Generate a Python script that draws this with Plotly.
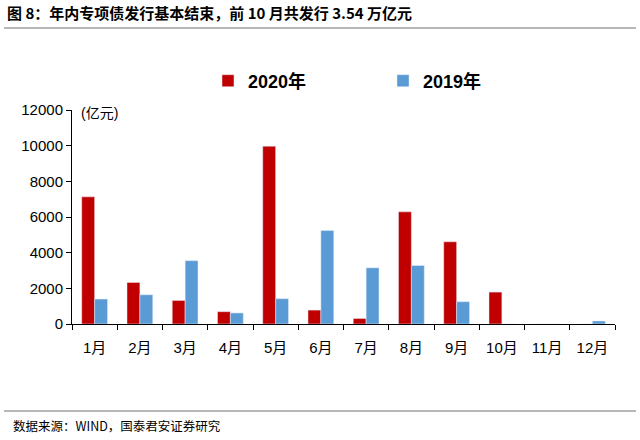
import plotly.graph_objects as go

months = ["1月", "2月", "3月", "4月", "5月", "6月", "7月", "8月", "9月", "10月", "11月", "12月"]
y2020 = [7130, 2330, 1320, 690, 9970, 780, 310, 6290, 4610, 1790, 0, 0]
y2019 = [1400, 1640, 3550, 620, 1420, 5240, 3150, 3280, 1250, 0, 0, 170]
yticks = [0, 2000, 4000, 6000, 8000, 10000, 12000]

L, R, T, B = 72, 25, 110, 116
PW, PH = 640 - L - R, 440 - T - B


def px(x):
    return (x - L) / PW


def py(y):
    return (440 - B - y) / PH


fig = go.Figure()
fig.add_trace(go.Bar(x=months, y=y2020, name="<b>2020年</b>", marker_color="#C00000"))
fig.add_trace(go.Bar(x=months, y=y2019, name="<b>2019年</b>", marker_color="#5B9BD5"))

fig.update_layout(
    width=640, height=440,
    margin=dict(l=L, r=R, t=T, b=B, autoexpand=False),
    paper_bgcolor="white", plot_bgcolor="white",
    barmode="group", bargap=0.43, bargroupgap=0,
    font=dict(family="Arial, Liberation Sans, Noto Sans CJK SC", size=14, color="black"),
    showlegend=True,
    legend=dict(orientation="h", x=px(208), xanchor="left", y=py(81), yanchor="middle",
                font=dict(size=18, family="Arial, Noto Sans CJK SC", color="black"),
                itemwidth=30, traceorder="normal", entrywidth=130, entrywidthmode="pixels"),
    xaxis=dict(showline=True, linecolor="black", linewidth=1, ticks="outside",
               tickson="boundaries", ticklen=5, tickcolor="black", showgrid=False,
               tickfont=dict(size=15), ticklabelstandoff=10),
    yaxis=dict(range=[0, 12000], tickvals=yticks, ticktext=[str(v) for v in yticks],
               showline=True, linecolor="black",
               linewidth=1, ticks="outside", ticklen=5, tickcolor="black", showgrid=False,
               zeroline=False, tickfont=dict(size=15)),
)

fig.add_annotation(x=px(79), y=py(113), xref="paper", yref="paper", text="(亿元)", showarrow=False,
                   xanchor="left", yanchor="middle", font=dict(size=14))

fig.add_annotation(x=px(5), y=py(13), xref="paper", yref="paper", xanchor="left", yanchor="middle",
                   text="<b>图 8：年内专项债发行基本结束，前 10 月共发行 3.54 万亿元</b>", showarrow=False,
                   font=dict(size=15, family="Noto Sans CJK SC", color="black"))
fig.add_annotation(x=px(11), y=py(425), xref="paper", yref="paper", xanchor="left", yanchor="middle",
                   text="数据来源：WIND，国泰君安证券研究", showarrow=False,
                   font=dict(size=12.5, family="Noto Sans CJK SC", color="black"))

for ypx in [28, 411]:
    fig.add_shape(type="line", xref="paper", yref="paper",
                  x0=px(4), x1=px(636), y0=py(ypx), y1=py(ypx),
                  line=dict(color="#A0A0A0", width=1.5))

fig.write_html("out.html", config={"displayModeBar": False},
               post_script="document.body.style.margin='0';document.body.style.padding='0';")
